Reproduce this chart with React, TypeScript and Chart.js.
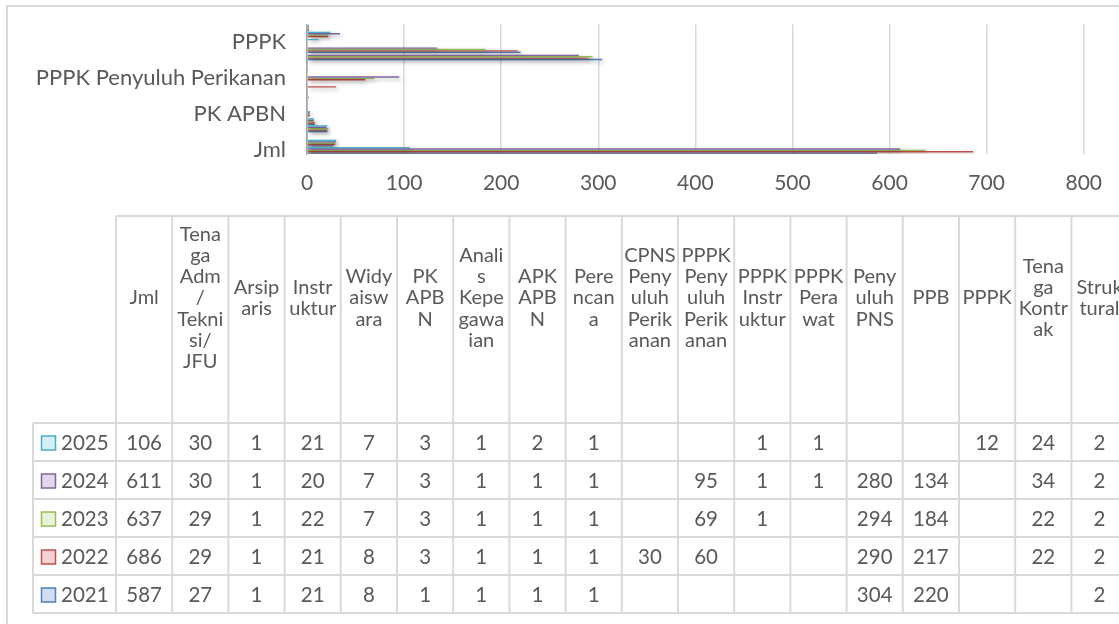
import React, { useEffect, useRef } from 'react';
import { Chart, registerables } from 'chart.js';

Chart.register(...registerables);

// ---------- data ----------
const categories = [
  'Jml', 'Tenaga Adm/Teknisi/JFU', 'Arsiparis', 'Instruktur', 'Widyaiswara', 'PK APBN',
  'Analis Kepegawaian', 'APK APBN', 'Perencana', 'CPNS Penyuluh Perikanan',
  'PPPK Penyuluh Perikanan', 'PPPK Instruktur', 'PPPK Perawat', 'Penyuluh PNS', 'PPB',
  'PPPK', 'Tenaga Kontrak', 'Struktural',
];

const tableHeaderLines = [
  ['Jml'],
  ['Tena', 'ga', 'Adm', '/', 'Tekni', 'si/', 'JFU'],
  ['Arsip', 'aris'],
  ['Instr', 'uktur'],
  ['Widy', 'aisw', 'ara'],
  ['PK', 'APB', 'N'],
  ['Anali', 's', 'Kepe', 'gawa', 'ian'],
  ['APK', 'APB', 'N'],
  ['Pere', 'ncan', 'a'],
  ['CPNS', 'Peny', 'uluh', 'Perik', 'anan'],
  ['PPPK', 'Peny', 'uluh', 'Perik', 'anan'],
  ['PPPK', 'Instr', 'uktur'],
  ['PPPK', 'Pera', 'wat'],
  ['Peny', 'uluh', 'PNS'],
  ['PPB'],
  ['PPPK'],
  ['Tena', 'ga', 'Kontr', 'ak'],
  ['Struk', 'tural'],
];

const years = ['2025', '2024', '2023', '2022', '2021'];

const values2025 = [106, 30, 1, 21, 7, 3, 1, 2, 1, null, null, 1, 1, null, null, 12, 24, 2];
const values2024 = [611, 30, 1, 20, 7, 3, 1, 1, 1, null, 95, 1, 1, 280, 134, null, 34, 2];
const values2023 = [637, 29, 1, 22, 7, 3, 1, 1, 1, null, 69, 1, null, 294, 184, null, 22, 2];
const values2022 = [686, 29, 1, 21, 8, 3, 1, 1, 1, 30, 60, null, null, 290, 217, null, 22, 2];
const values2021 = [587, 27, 1, 21, 8, 1, 1, 1, 1, null, null, null, null, 304, 220, null, null, 2];

const seriesValues = [values2025, values2024, values2023, values2022, values2021];

const xMin = 0;
const xMax = 800;
const xStep = 100;

// ---------- styles ----------
const seriesColors = ['#4BACC6', '#8064A2', '#9BBB59', '#C0504D', '#4F81BD'];
const keyFills = ['#D3EFF6', '#E0D8EC', '#EAF2DA', '#F4D2D1', '#D2DEF0'];
const textColor = '#595959';
const lineColor = '#D9D9D9';
const FONT = 'Lato, "Open Sans", sans-serif';

const W = 1119;
const H = 624;

const frameAndTablePlugin = {
  id: 'frameAndTable',
  afterDraw(chart: any) {
    const ctx: CanvasRenderingContext2D = chart.ctx;
    ctx.save();
    // outer chart frame
    ctx.strokeStyle = lineColor;
    ctx.lineWidth = 2;
    ctx.beginPath();
    ctx.moveTo(7, H + 5);
    ctx.lineTo(7, 6);
    ctx.lineTo(W + 5, 6);
    ctx.stroke();

    // data table geometry
    const legendLeft = 33;
    const colLeft = 116;
    const colW = 56.2;
    const headTop = 216;
    const rowTop = 423;
    const rowH = 38;
    const nCols = categories.length;
    const nRows = years.length;
    const tableRight = colLeft + colW * nCols;
    const tableBottom = rowTop + rowH * nRows;

    ctx.strokeStyle = lineColor;
    ctx.lineWidth = 2;
    ctx.beginPath();
    ctx.moveTo(colLeft, headTop);
    ctx.lineTo(tableRight, headTop);
    for (let r = 0; r <= nRows; r++) {
      const y = rowTop + r * rowH;
      ctx.moveTo(legendLeft, y);
      ctx.lineTo(tableRight, y);
    }
    for (let c = 0; c <= nCols; c++) {
      const x = colLeft + c * colW;
      ctx.moveTo(x, headTop);
      ctx.lineTo(x, tableBottom);
    }
    ctx.moveTo(legendLeft, rowTop);
    ctx.lineTo(legendLeft, tableBottom);
    ctx.stroke();

    const drawText = (t: string, x: number, y: number, sy: number) => {
      ctx.save();
      ctx.translate(x, y);
      ctx.scale(1, sy);
      ctx.fillText(t, 0, 0);
      ctx.restore();
    };

    // header text
    ctx.fillStyle = textColor;
    ctx.font = `20px ${FONT}`;
    ctx.textAlign = 'center';
    ctx.textBaseline = 'middle';
    const headCenter = 298;
    const lineH = 21.3;
    tableHeaderLines.forEach((lines, c) => {
      const cx = colLeft + c * colW + colW / 2;
      const y0 = headCenter - ((lines.length - 1) * lineH) / 2;
      lines.forEach((t, k) => drawText(t, cx, y0 + k * lineH, 1.0));
    });

    // rows
    ctx.font = `20.5px ${FONT}`;
    years.forEach((yr, r) => {
      const cy = rowTop + r * rowH + rowH / 2 + 1;
      ctx.fillStyle = keyFills[r];
      ctx.fillRect(41.5, cy - 7, 14, 14);
      ctx.strokeStyle = seriesColors[r];
      ctx.lineWidth = 1.5;
      ctx.strokeRect(41.5, cy - 7, 14, 14);
      ctx.fillStyle = textColor;
      ctx.textAlign = 'left';
      drawText(yr, 61, cy, 1.06);
      ctx.textAlign = 'center';
      seriesValues[r].forEach((v, c) => {
        if (v === null || v === undefined) return;
        drawText(String(v), colLeft + c * colW + colW / 2, cy, 1.06);
      });
    });
    ctx.restore();
  },
};

const shadowPlugin = {
  id: 'barShadow',
  beforeDatasetsDraw(chart: any) {
    const ctx = chart.ctx;
    ctx.save();
    ctx.shadowColor = 'rgba(0,0,0,0.35)';
    ctx.shadowBlur = 4;
    ctx.shadowOffsetX = 2;
    ctx.shadowOffsetY = 2;
  },
  afterDatasetsDraw(chart: any) {
    chart.ctx.restore();
  },
};

export default function App() {
  const ref = useRef<HTMLCanvasElement>(null);
  useEffect(() => {
    const chart = new Chart(ref.current as HTMLCanvasElement, {
      type: 'bar',
      data: {
        labels: categories,
        datasets: years.map((y, i) => ({
          label: y,
          data: seriesValues[i] as any,
          backgroundColor: seriesColors[i],
          borderWidth: 0,
          categoryPercentage: 0.95,
          barPercentage: 1,
        })),
      },
      options: {
        indexAxis: 'y',
        responsive: false,
        animation: false,
        devicePixelRatio: 1,
        layout: { padding: { left: 0, top: 21, right: 26, bottom: 624 - 154 - 40 } },
        plugins: {
          legend: { display: false },
          tooltip: { enabled: false },
          title: { display: false },
        },
        scales: {
          x: {
            min: xMin,
            max: xMax,
            ticks: {
              stepSize: xStep,
              color: textColor,
              font: { family: FONT, size: 21 },
              padding: 17,
              maxRotation: 0,
            },
            grid: { color: lineColor, lineWidth: 1.5, drawTicks: false },
            border: { display: false },
            afterFit: (s: any) => { s.height = 40; },
          },
          y: {
            reverse: true,
            ticks: {
              autoSkip: false,
              callback: (_v: any, i: number) => (i % 5 === 0 ? categories[i] : ''),
              color: textColor,
              font: { family: FONT, size: 22, lineHeight: 0.3 },
              padding: 21,
            },
            grid: { display: false, drawTicks: false },
            border: { display: true, color: '#A6A6A6', width: 1.5 },
            afterFit: (s: any) => { s.width = 307; },
          },
        },
      },
      plugins: [shadowPlugin, frameAndTablePlugin],
    });
    return () => chart.destroy();
  }, []);

  return (
    <div style={{ position: 'fixed', left: 0, top: 0, width: W, height: H, overflow: 'hidden', background: '#fff' }}>
      <canvas ref={ref} width={W} height={H} style={{ width: W, height: H, display: 'block' }} />
    </div>
  );
}
